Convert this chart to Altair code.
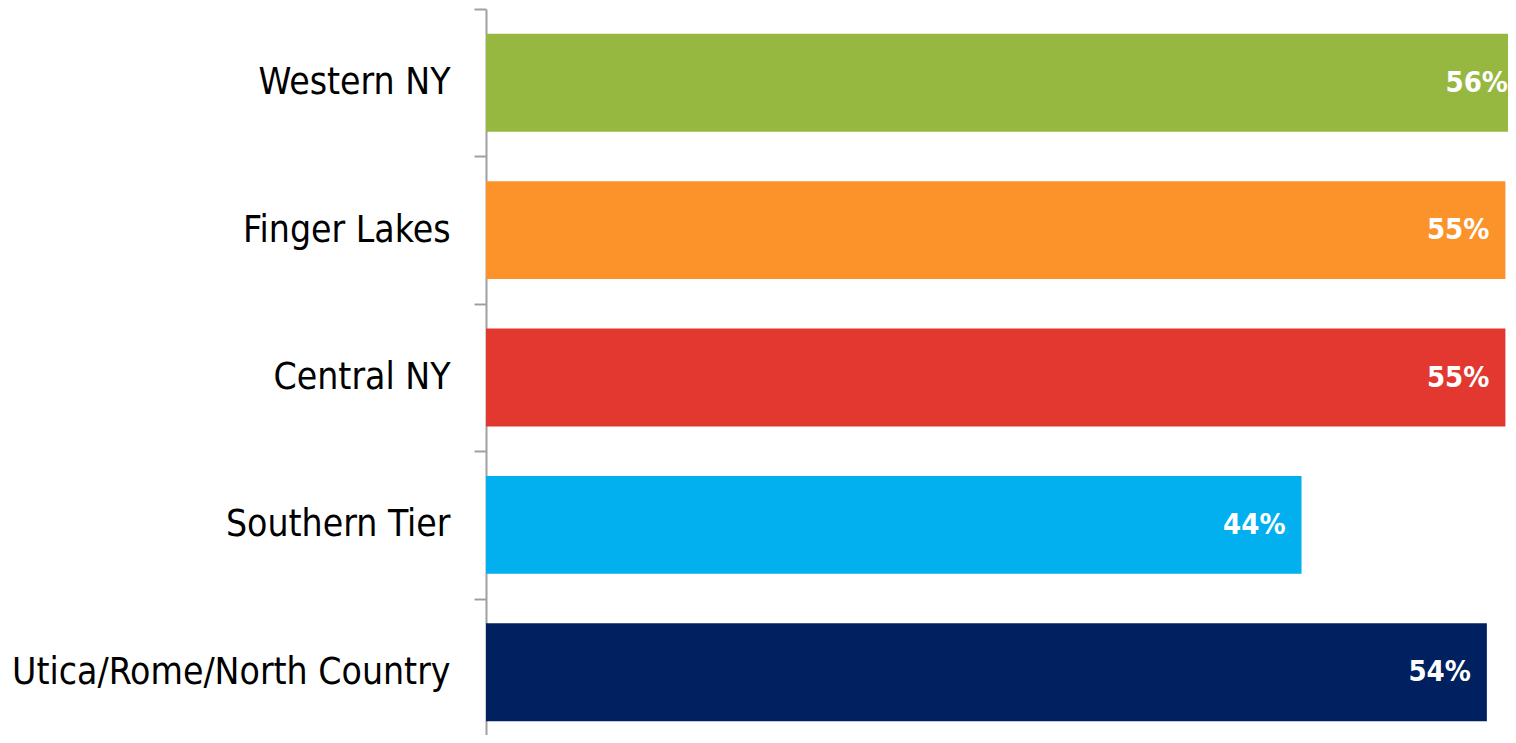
import altair as alt
import pandas as pd

regions = ["Western NY", "Finger Lakes", "Central NY", "Southern Tier", "Utica/Rome/North Country"]
values = [0.56, 0.55, 0.55, 0.44, 0.54]
labels = ["56%", "55%", "55%", "44%", "54%"]
colors = ["#97B840", "#FB922A", "#E2382F", "#02B0EF", "#002060"]

df = pd.DataFrame({"region": regions, "value": values, "label": labels})

FONT = "DejaVu Sans Condensed, DejaVu Sans"

y_scale = alt.Scale(paddingInner=0, paddingOuter=0, range=[0, 737])

y_enc = alt.Y(
    "region:N",
    sort=regions,
    scale=y_scale,
    axis=alt.Axis(
        title=None,
        tickBand="extent",
        tickSize=12,
        tickColor="#A0A0A0",
        tickWidth=2,
        domainColor="#A0A0A0",
        domainWidth=2,
        labelPadding=24,
        labelFont=FONT,
        labelFontSize=37,
        labelColor="#000000",
        labelLimit=600,
    ),
)

x_enc = alt.X(
    "value:Q",
    scale=alt.Scale(domain=[0, 0.5514], nice=False),
    axis=None,
)

bars = alt.Chart(df).mark_bar(height=alt.RelativeBandSize(0.664)).encode(
    y=y_enc,
    x=x_enc,
    color=alt.Color("region:N", scale=alt.Scale(domain=regions, range=colors), legend=None),
)

text = alt.Chart(df).mark_text(
    align="right", baseline="middle", dx=-16, font=FONT, fontSize=29,
    fontWeight="bold", color="white",
).encode(
    y=alt.Y("region:N", sort=regions),
    x=alt.X("value:Q"),
    text="label:N",
)

chart = (bars + text).properties(
    width=1022,
    height=726,
    padding={"left": 478, "top": 1, "right": 0, "bottom": 0},
    autosize=alt.AutoSizeParams(type="none"),
).configure_view(stroke=None)

chart.save("out.html", embed_options={"renderer": "svg", "actions": False})
